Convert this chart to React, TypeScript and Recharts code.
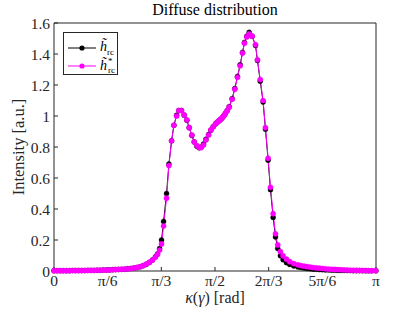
import React from 'react'
import { LineChart, Line, XAxis, YAxis } from 'recharts'

// kappa(gamma) sample positions [rad], shared by both curves
const kappa = [
  0.0, 0.03, 0.06, 0.09, 0.12, 0.15, 0.18, 0.21, 0.24, 0.27, 0.3, 0.33, 0.36, 0.39, 0.42, 0.45,
  0.48, 0.51, 0.54, 0.57, 0.6, 0.63, 0.66, 0.69, 0.72, 0.75, 0.78, 0.81, 0.84, 0.87, 0.9, 0.93,
  0.96, 0.99, 1.01, 1.03,
  1.049, 1.069, 1.098, 1.121, 1.147, 1.17, 1.196, 1.218, 1.244, 1.27, 1.296, 1.319, 1.345, 1.368,
  1.394, 1.417, 1.436, 1.459, 1.482, 1.508, 1.53, 1.553, 1.576, 1.59, 1.602, 1.615, 1.625, 1.638,
  1.65, 1.662, 1.673, 1.69, 1.709, 1.738, 1.764, 1.79, 1.816, 1.839, 1.858, 1.881, 1.904, 1.933,
  1.966, 1.985, 2.012, 2.04, 2.063, 2.089, 2.112, 2.138, 2.161, 2.183, 2.209, 2.235, 2.268, 2.3,
  2.34, 2.38, 2.41, 2.44, 2.47, 2.5, 2.53, 2.56, 2.59, 2.62, 2.65, 2.68, 2.71, 2.74, 2.77, 2.8,
  2.83, 2.86, 2.89, 2.92, 2.95, 2.98, 3.01, 3.04, 3.07, 3.1, 3.14,
]

// h~_rc (black)
const hrc = [
  0.002, 0.002, 0.002, 0.002, 0.002, 0.002, 0.003, 0.003, 0.003, 0.003, 0.003, 0.004, 0.004, 0.004, 0.005, 0.005,
  0.006, 0.006, 0.007, 0.008, 0.009, 0.01, 0.011, 0.012, 0.014, 0.016, 0.019, 0.022, 0.027, 0.034, 0.043, 0.055,
  0.071, 0.092, 0.11, 0.145,
  0.2, 0.32, 0.5, 0.69, 0.84, 0.94, 1.005, 1.035, 1.035, 1.005, 0.972, 0.925, 0.875, 0.832,
  0.805, 0.795, 0.8, 0.82, 0.85, 0.88, 0.908, 0.93, 0.948, 0.958, 0.965, 0.972, 0.978, 0.986,
  0.996, 1.006, 1.018, 1.035, 1.06, 1.112, 1.178, 1.255, 1.33, 1.41, 1.475, 1.515, 1.54, 1.515,
  1.455, 1.358, 1.225, 1.09, 0.915, 0.715, 0.525, 0.345, 0.22, 0.145, 0.098, 0.072, 0.054, 0.042,
  0.032, 0.026, 0.022, 0.019, 0.016, 0.014, 0.012, 0.011, 0.009, 0.008, 0.007, 0.006, 0.005, 0.005, 0.004, 0.004,
  0.003, 0.003, 0.003, 0.002, 0.002, 0.002, 0.002, 0.001, 0.001, 0.001, 0.001,
]

// h~*_rc (magenta)
const hrcStar = [
  0.002, 0.002, 0.002, 0.002, 0.002, 0.002, 0.003, 0.003, 0.003, 0.003, 0.003, 0.004, 0.004, 0.004, 0.005, 0.005,
  0.006, 0.006, 0.007, 0.008, 0.009, 0.01, 0.011, 0.012, 0.014, 0.016, 0.019, 0.023, 0.028, 0.035, 0.044, 0.056,
  0.07, 0.09, 0.108, 0.135,
  0.175, 0.29, 0.47, 0.68, 0.84, 0.94, 1.0, 1.035, 1.035, 1.007, 0.975, 0.925, 0.877, 0.834,
  0.809, 0.796, 0.796, 0.813, 0.845, 0.877, 0.91, 0.93, 0.95, 0.958, 0.964, 0.972, 0.979, 0.987,
  0.996, 1.006, 1.018, 1.035, 1.057, 1.108, 1.173, 1.25, 1.324, 1.406, 1.47, 1.51, 1.53, 1.515,
  1.46, 1.363, 1.235, 1.1, 0.925, 0.727, 0.54, 0.37, 0.24, 0.168, 0.125, 0.098, 0.076, 0.06,
  0.048, 0.04, 0.035, 0.031, 0.028, 0.025, 0.022, 0.02, 0.018, 0.016, 0.014, 0.012, 0.011, 0.01, 0.009, 0.008,
  0.007, 0.006, 0.005, 0.005, 0.004, 0.004, 0.003, 0.003, 0.002, 0.002, 0.002,
]

const xTicks = [0, Math.PI / 6, Math.PI / 3, Math.PI / 2, (2 * Math.PI) / 3, (5 * Math.PI) / 6, Math.PI]
const xTickLabels = ['0', 'π/6', 'π/3', 'π/2', '2π/3', '5π/6', 'π']
const yTicks = [0, 0.2, 0.4, 0.6, 0.8, 1, 1.2, 1.4, 1.6]
const yTickLabels = ['0', '0.2', '0.4', '0.6', '0.8', '1', '1.2', '1.4', '1.6']

const AXIS = '#262626'
const FONT = '"Liberation Serif", "DejaVu Serif", serif'

const chartData = kappa.map((x, i) => ({ x, hrc: hrc[i], hrcStar: hrcStar[i] }))

const labelOf = (ticks: number[], labels: string[]) => (v: number) =>
  labels[ticks.findIndex((t) => Math.abs(t - v) < 1e-6)] ?? ''

function LegendSample({ color }: { color: string }) {
  return (
    <svg width={30} height={8} style={{ display: 'block' }}>
      <line x1={1} y1={4} x2={29} y2={4} stroke={color} strokeWidth={1} />
      <circle cx={15} cy={4} r={2.6} fill={color} />
    </svg>
  )
}

export default function App() {
  const tickStyle = { fill: AXIS, fontSize: 15.5, fontFamily: FONT }
  return (
    <div style={{ position: 'absolute', left: 0, top: 0, width: 415, height: 312, background: '#fff', fontFamily: FONT }}>
      <LineChart width={415} height={312} data={chartData} margin={{ top: 22, right: 38, left: 0, bottom: 0 }}>
        <XAxis
          dataKey="x"
          type="number"
          domain={[0, Math.PI]}
          ticks={xTicks}
          tickFormatter={labelOf(xTicks, xTickLabels)}
          tick={tickStyle}
          tickSize={-4}
          tickMargin={8}
          height={41}
          stroke={AXIS}
          interval={0}
        />
        <XAxis
          xAxisId="top"
          orientation="top"
          type="number"
          domain={[0, Math.PI]}
          ticks={xTicks}
          tick={false}
          tickSize={-4}
          height={1}
          stroke={AXIS}
          interval={0}
        />
        <YAxis
          type="number"
          domain={[0, 1.6]}
          ticks={yTicks}
          tickFormatter={labelOf(yTicks, yTickLabels)}
          tick={tickStyle}
          tickSize={-4}
          tickMargin={8}
          width={54}
          stroke={AXIS}
          interval={0}
        />
        <YAxis
          yAxisId="right"
          orientation="right"
          type="number"
          domain={[0, 1.6]}
          ticks={yTicks}
          tick={false}
          tickSize={-4}
          width={1}
          stroke={AXIS}
          interval={0}
        />
        <Line
          dataKey="hrc"
          stroke="#000000"
          strokeWidth={1}
          dot={{ r: 2.5, fill: '#000000', stroke: '#000000', strokeWidth: 0.4 }}
          isAnimationActive={false}
        />
        <Line
          dataKey="hrcStar"
          stroke="#ff00ff"
          strokeWidth={1}
          dot={{ r: 2.6, fill: '#ff00ff', stroke: '#ff00ff', strokeWidth: 0.4 }}
          isAnimationActive={false}
        />
        <text x={215} y={15} textAnchor="middle" fontSize={16} fontFamily={FONT} fill="#000">
          Diffuse distribution
        </text>
        <text x={215} y={303} textAnchor="middle" fontSize={16} fontFamily={FONT} fill={AXIS}>
          <tspan fontStyle="italic">κ</tspan>(<tspan fontStyle="italic">γ</tspan>) [rad]
        </text>
        <text x={24} y={147} textAnchor="middle" fontSize={16.5} fontFamily={FONT} fill={AXIS} transform="rotate(-90, 24, 147)">
          Intensity [a.u.]
        </text>
      </LineChart>
      <div
        style={{
          position: 'absolute',
          left: 63,
          top: 32,
          width: 55,
          height: 43,
          boxSizing: 'border-box',
          border: `1px solid ${AXIS}`,
          background: '#fff',
          fontSize: 14,
          color: '#000',
        }}
      >
        <div style={{ position: 'absolute', left: 3, top: 6, display: 'flex', alignItems: 'center' }}>
          <LegendSample color="#000000" />
          <span style={{ marginLeft: 3 }}>
            <i>h̃</i>
            <sub style={{ fontSize: 9 }}>rc</sub>
          </span>
        </div>
        <div style={{ position: 'absolute', left: 3, top: 24, display: 'flex', alignItems: 'center' }}>
          <LegendSample color="#ff00ff" />
          <span style={{ marginLeft: 3, display: 'inline-flex', alignItems: 'center' }}>
            <i>h̃</i>
            <span style={{ display: 'inline-flex', flexDirection: 'column', fontSize: 9, lineHeight: '9px', marginLeft: 1 }}>
              <span>*</span>
              <span>rc</span>
            </span>
          </span>
        </div>
      </div>
    </div>
  )
}
